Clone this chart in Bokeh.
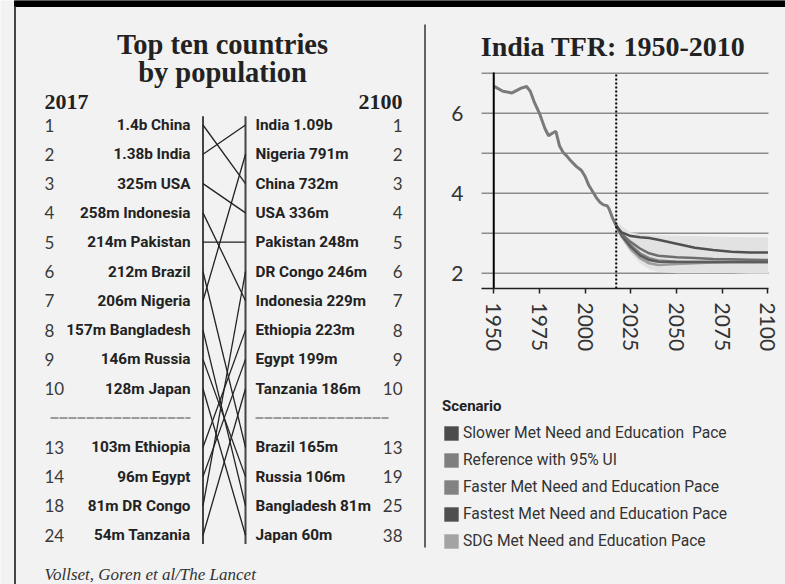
from bokeh.plotting import figure
from bokeh.models import Range1d, FixedTicker, Legend, LegendItem, LinearAxis
from bokeh.core.properties import value
from bokeh.embed import file_html
from bokeh.resources import INLINE

# ---------------- data ----------------
left_ranks = ["1", "2", "3", "4", "5", "6", "7", "8", "9", "10", "13", "14", "18", "24"]
left_labels = ["1.4b China", "1.38b India", "325m USA", "258m Indonesia", "214m Pakistan",
               "212m Brazil", "206m Nigeria", "157m Bangladesh", "146m Russia", "128m Japan",
               "103m Ethiopia", "96m Egypt", "81m DR Congo", "54m Tanzania"]
left_countries = ["China", "India", "USA", "Indonesia", "Pakistan", "Brazil", "Nigeria",
                  "Bangladesh", "Russia", "Japan", "Ethiopia", "Egypt", "DR Congo", "Tanzania"]
right_ranks = ["1", "2", "3", "4", "5", "6", "7", "8", "9", "10", "13", "19", "25", "38"]
right_labels = ["India 1.09b", "Nigeria 791m", "China 732m", "USA 336m", "Pakistan 248m",
                "DR Congo 246m", "Indonesia 229m", "Ethiopia 223m", "Egypt 199m", "Tanzania 186m",
                "Brazil 165m", "Russia 106m", "Bangladesh 81m", "Japan 60m"]
right_countries = ["India", "Nigeria", "China", "USA", "Pakistan", "DR Congo", "Indonesia",
                   "Ethiopia", "Egypt", "Tanzania", "Brazil", "Russia", "Bangladesh", "Japan"]

hist_years = [1950, 1955, 1960, 1965, 1968, 1970, 1972, 1975, 1978, 1980, 1982, 1984, 1986, 1988,
              1990, 1992, 1995, 1998, 2000, 2002, 2004, 2006, 2008, 2010, 2012, 2013, 2015, 2017]
hist_tfr = [6.68, 6.55, 6.51, 6.63, 6.67, 6.55, 6.30, 6.00, 5.62, 5.44, 5.50, 5.55, 5.18, 5.02,
            4.93, 4.82, 4.68, 4.57, 4.42, 4.20, 4.05, 3.90, 3.78, 3.71, 3.69, 3.62, 3.38, 3.19]

proj_years = [2017, 2020, 2025, 2030, 2035, 2040, 2050, 2060, 2070, 2080, 2090, 2100]
slower = [3.19, 3.02, 2.93, 2.90, 2.88, 2.84, 2.74, 2.64, 2.58, 2.54, 2.52, 2.52]
reference = [3.19, 2.98, 2.78, 2.62, 2.50, 2.44, 2.40, 2.38, 2.36, 2.35, 2.34, 2.33]
faster = [3.19, 2.95, 2.70, 2.50, 2.38, 2.32, 2.29, 2.28, 2.28, 2.28, 2.28, 2.28]
fastest = [3.19, 2.94, 2.66, 2.45, 2.33, 2.29, 2.28, 2.28, 2.28, 2.28, 2.28, 2.28]
sdg = [3.19, 2.92, 2.60, 2.38, 2.25, 2.21, 2.23, 2.25, 2.27, 2.28, 2.28, 2.28]
ui_upper = [3.28, 3.18, 3.02, 2.98, 2.96, 2.95, 2.94, 2.93, 2.92, 2.91, 2.90, 2.90]
ui_lower = [3.10, 2.85, 2.50, 2.25, 2.10, 2.03, 2.00, 2.00, 2.00, 2.00, 1.99, 1.99]

x_ticks = [1950, 1975, 2000, 2025, 2050, 2075, 2100]
y_ticks = [2, 4, 6]
grid_ticks = [2, 3, 4, 5, 6, 7]
start_year = 1950
base_year = 2017

scenario_labels = ["Slower Met Need and Education  Pace", "Reference with 95% UI",
                   "Faster Met Need and Education Pace", "Fastest Met Need and Education Pace",
                   "SDG Met Need and Education Pace"]
scenario_colors = ["#4b4b4b", "#7f7f7f", "#828282", "#4f4f4f", "#a3a3a3"]

# ---------------- style / layout ----------------
BG = "#f2f2f2"
SERIF = "Liberation Serif"
SANS = "Roboto"
LIGHT = "Lato"
INK = "#222222"

CW, CH = 785, 584
ROW0, DY = 124.5, 29.3          # page position of first bump row and row spacing (px)
FL, FR, FT, FB = 481, 768, 72, 288   # TFR plot box on the page (px)
X_LO, X_HI, Y_LO, Y_HI = 1943.3, 2100.3, 1.62, 7.02
NAN = float("nan")


def s(y):
    """page y (px) -> bump-chart slot units"""
    return (y - ROW0) / DY


kx = (FR - FL) / (X_HI - X_LO)
ky = (FB - FT) / (Y_HI - Y_LO)

p = figure(width=CW, height=CH, x_range=Range1d(0, CW), y_range=Range1d(s(CH), s(0)),
           output_backend="svg", toolbar_location=None, min_border=0,
           x_axis_location=None, y_axis_location=None, outline_line_color=None,
           background_fill_color=BG, border_fill_color=BG)
p.grid.visible = False
p.extra_x_ranges = {"year": Range1d(X_LO - FL / kx, X_LO + (CW - FL) / kx)}
p.extra_y_ranges = {"tfr": Range1d(Y_LO - (CH - FB) / ky, Y_LO + FB / ky)}

# ---- frame decorations ----
p.quad(left=[14], right=[CW], top=[s(0)], bottom=[s(6)], color="black")
p.segment(x0=[14.5], y0=[s(6)], x1=[14.5], y1=[s(CH)], line_color="#444444", line_width=2)
p.segment(x0=[424.5], y0=[s(24)], x1=[424.5], y1=[s(547)], line_color="#333333", line_width=1.5)

# ---- titles ----
p.text(x=[222, 222], y=[s(44.3), s(71.7)], text=["Top ten countries", "by population"],
       text_align="center", text_baseline="alphabetic", text_font=value(SERIF),
       text_font_style="bold", text_font_size="28.5px", text_color=INK)
p.text(x=[44], y=[s(101.5)], text=["2017"], text_align="left", text_baseline="alphabetic",
       text_font=value(SERIF), text_font_style="bold", text_font_size="22px", text_color=INK)
p.text(x=[402], y=[s(101.5)], text=["2100"], text_align="right", text_baseline="alphabetic",
       text_font=value(SERIF), text_font_style="bold", text_font_size="22px", text_color=INK)
p.text(x=[612.5], y=[s(46)], text=["India TFR: 1950-2010"], text_align="center",
       text_baseline="alphabetic", text_font=value(SERIF), text_font_style="bold",
       text_font_size="28px", text_color=INK)

# ---- bump chart ----
slots = [i if i < 10 else i + 1 for i in range(len(left_labels))]

p.text(x=[44] * len(slots), y=slots, text=left_ranks, text_align="left", text_baseline="middle",
       text_font=value(LIGHT), text_font_size="17px", text_color="#3a3a3a")
p.text(x=[190] * len(slots), y=slots, text=left_labels, text_align="right", text_baseline="middle",
       text_font=value(SANS), text_font_style="bold", text_font_size="15.3px", text_color=INK)
p.text(x=[255] * len(slots), y=slots, text=right_labels, text_align="left", text_baseline="middle",
       text_font=value(SANS), text_font_style="bold", text_font_size="15.3px", text_color=INK)
p.text(x=[402] * len(slots), y=slots, text=right_ranks, text_align="right", text_baseline="middle",
       text_font=value(LIGHT), text_font_size="17px", text_color="#3a3a3a")

p.segment(x0=[50, 255], x1=[190, 388], y0=[10, 10], y1=[10, 10], line_color="#444444",
          line_width=1, line_dash="8 1")

XL, XR = 202.5, 245
p.segment(x0=[XL, XR], x1=[XL, XR], y0=[-0.3, -0.3], y1=[14.3, 14.3],
          line_color="#444444", line_width=2)

y_from = slots
y_to = [slots[right_countries.index(c)] for c in left_countries]
p.segment(x0=[XL] * len(y_from), y0=y_from, x1=[XR] * len(y_to), y1=y_to,
          line_color=INK, line_width=1.3)

p.text(x=[44], y=[s(574)], text=["Vollset, Goren et al/The Lancet"], text_align="left",
       text_baseline="alphabetic", text_font=value(SERIF), text_font_style="italic",
       text_font_size="17px", text_color="#333333")

# ---- TFR chart ----
R = dict(x_range_name="year", y_range_name="tfr")

p.segment(x0=[X_LO] * len(grid_ticks), x1=[X_HI] * len(grid_ticks), y0=grid_ticks, y1=grid_ticks,
          line_color="#8c8c8c", line_width=1.5, **R)

p.varea(x=proj_years, y1=ui_lower, y2=ui_upper, fill_color="#e2e2e2", fill_alpha=1, **R)
p.line(proj_years, sdg, line_color="#9c9c9c", line_width=2.5, **R)
p.line(proj_years, faster, line_color="#858585", line_width=2.5, **R)
p.line(proj_years, fastest, line_color="#5c5c5c", line_width=2.5, **R)
p.line(proj_years, reference, line_color="#6e6e6e", line_width=2.5, **R)
p.line(proj_years, slower, line_color="#505050", line_width=2.5, **R)
p.line(hist_years, hist_tfr, line_color="#7a7a7a", line_width=3, **R)

p.segment(x0=[start_year], x1=[start_year], y0=[Y_LO], y1=[Y_HI], line_color="black",
          line_width=2, **R)
p.segment(x0=[base_year], x1=[base_year], y0=[Y_LO], y1=[Y_HI], line_color="black",
          line_width=2, line_dash="2 2", **R)

xax = LinearAxis(fixed_location=Y_LO, bounds=(X_LO, X_HI), ticker=FixedTicker(ticks=x_ticks), **R)
xax.axis_line_color = "#222222"
xax.axis_line_width = 1.5
xax.major_tick_line_color = "#222222"
xax.major_tick_line_width = 1.5
xax.major_tick_in = 0
xax.major_tick_out = 5
xax.minor_tick_line_color = None
xax.major_label_orientation = "vertical"
xax.major_label_standoff = 9
xax.major_label_text_font = LIGHT
xax.major_label_text_font_size = "21px"
xax.major_label_text_color = "#333333"
p.add_layout(xax, "below")

yax = LinearAxis(fixed_location=X_LO, bounds=(Y_LO, Y_HI), ticker=FixedTicker(ticks=y_ticks), **R)
yax.axis_line_color = None
yax.major_tick_line_color = None
yax.minor_tick_line_color = None
yax.major_tick_out = 0
yax.major_tick_in = 0
yax.major_label_standoff = 18
yax.major_label_text_font = LIGHT
yax.major_label_text_font_size = "21px"
yax.major_label_text_color = "#333333"
p.add_layout(yax, "left")

# ---- legend ----
items = []
for lab, col in zip(scenario_labels, scenario_colors):
    r = p.quad(left=[NAN], right=[NAN], top=[NAN], bottom=[NAN], fill_color=col, line_color=None)
    items.append(LegendItem(label=lab, renderers=[r]))

legend = Legend(items=items, location=(442, 34), title="Scenario",
                title_text_font=SANS, title_text_font_style="bold", title_text_font_size="15px",
                title_text_color=INK, title_standoff=9,
                label_text_font=SANS, label_text_font_size="15.6px", label_text_color="#333333",
                glyph_width=18, glyph_height=18, label_standoff=3, label_height=18, spacing=9,
                padding=0, margin=0, border_line_color=None, background_fill_alpha=0)
p.add_layout(legend)

open("out.html", "w").write(file_html(p, INLINE))
